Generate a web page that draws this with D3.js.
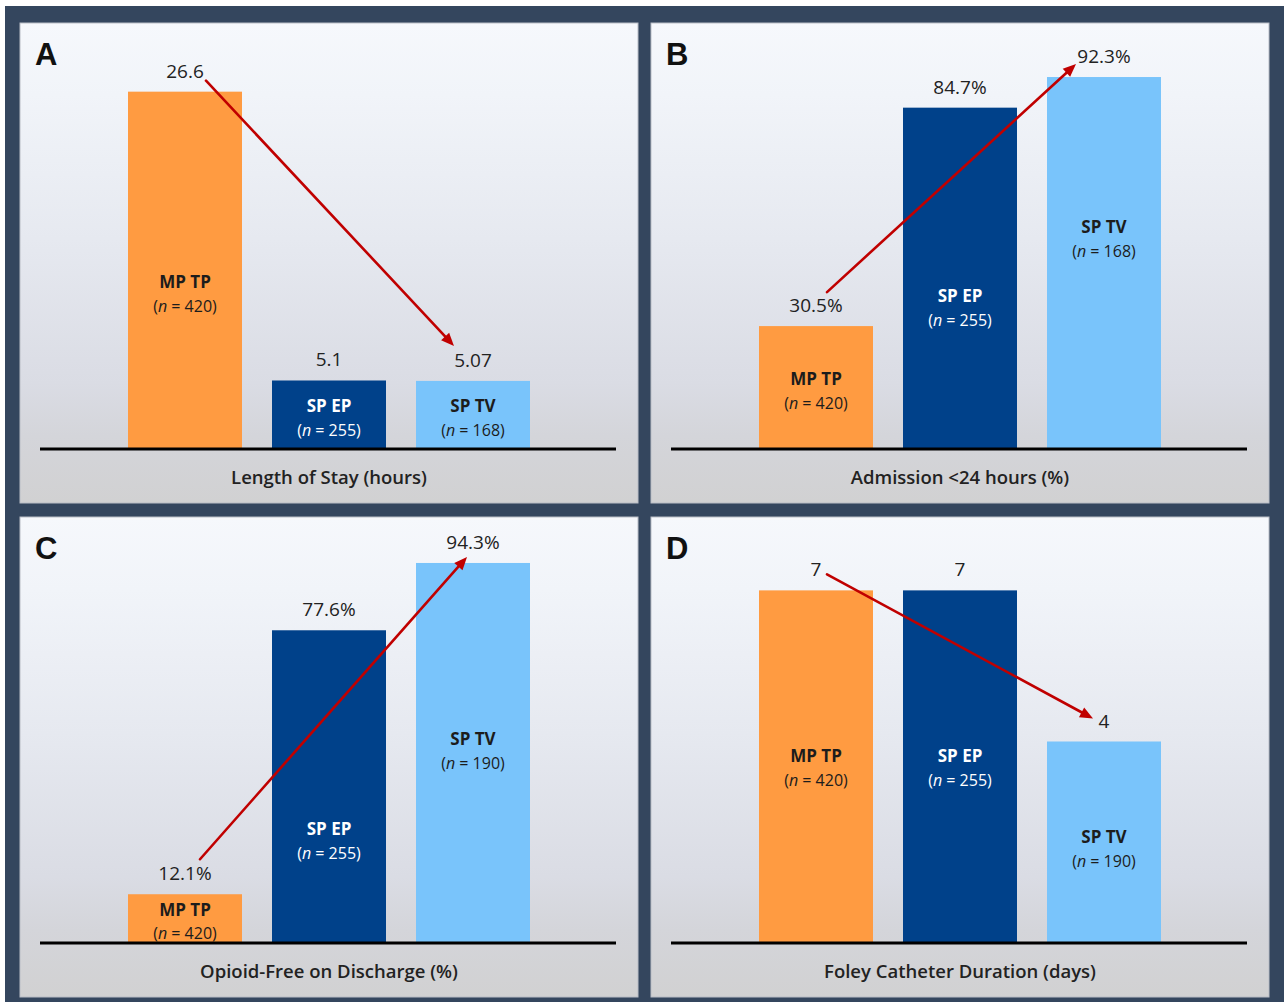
<!DOCTYPE html>
<html>
<head>
<meta charset="utf-8">
<script src="https://cdn.jsdelivr.net/npm/d3@7"></script>
<style>
  html, body { margin: 0; padding: 0; background: #ffffff; }
  svg { display: block; }
</style>
</head>
<body>
<svg id="chart" width="1284" height="1002"></svg>
<script>
// ---------------- DATA ----------------
const panelLetters = ["A", "B", "C", "D"];
const axisTitles = [
  "Length of Stay (hours)",
  "Admission <24 hours (%)",
  "Opioid-Free on Discharge (%)",
  "Foley Catheter Duration (days)"
];
const groups = ["MP TP", "SP EP", "SP TV"];

const valuesLOS = [26.6, 5.1, 5.07];
const valuesAdmission = [30.5, 84.7, 92.3];
const valuesOpioidFree = [12.1, 77.6, 94.3];
const valuesFoley = [7, 7, 4];

const valueLabelsLOS = ["26.6", "5.1", "5.07"];
const valueLabelsAdmission = ["30.5%", "84.7%", "92.3%"];
const valueLabelsOpioidFree = ["12.1%", "77.6%", "94.3%"];
const valueLabelsFoley = ["7", "7", "4"];

const nLOS = [420, 255, 168];
const nAdmission = [420, 255, 168];
const nOpioidFree = [420, 255, 190];
const nFoley = [420, 255, 190];

// value-axis maximum of each panel
const axisMax = [30, 100, 100, 8];

// where (in data units) the group label sits inside each bar
const labelAtLOS = [11.5, 2.3, 2.3];
const labelAtAdmission = [14.4, 35, 52.1];
const labelAtOpioidFree = [5.3, 25.3, 47.6];
const labelAtFoley = [3.47, 3.47, 1.86];

// ---------------- LAYOUT / STYLE ----------------
const panelsData = [
  { values: valuesLOS, labels: valueLabelsLOS, n: nLOS, labelAt: labelAtLOS },
  { values: valuesAdmission, labels: valueLabelsAdmission, n: nAdmission, labelAt: labelAtAdmission },
  { values: valuesOpioidFree, labels: valueLabelsOpioidFree, n: nOpioidFree, labelAt: labelAtOpioidFree },
  { values: valuesFoley, labels: valueLabelsFoley, n: nFoley, labelAt: labelAtFoley }
];
const panelBoxes = [
  { x: 20, y: 23 }, { x: 651, y: 23 }, { x: 20, y: 517 }, { x: 651, y: 517 }
];
// arrow endpoints as offsets from the value-label centres (first -> last bar)
const arrowOffsets = [
  { s: [21, 10], e: [-19, -14] },
  { s: [11, -13], e: [-28, 8] },
  { s: [15, -14], e: [-6, 15] },
  { s: [11, 5], e: [-11, -2] }
];
const PW = 618, PH = 480;
const BASE = 426, PLOT_H = 403;
const barColors = ["#ff9b41", "#00418a", "#79c4fb"];
const barTextColors = ["#1c1c1c", "#ffffff", "#1c1c1c"];
const FONT = "'Open Sans', 'Noto Sans', sans-serif";

const svg = d3.select("#chart");
const defs = svg.append("defs");
const grad = defs.append("linearGradient")
  .attr("id", "panelGrad").attr("x1", 0).attr("y1", 0).attr("x2", 0).attr("y2", 1);
[
  [0, "#f6f8fc"], [0.15, "#f1f4f9"], [0.45, "#e6e9f0"],
  [0.75, "#dadce4"], [0.86, "#d4d5da"], [1, "#d1d1d2"]
].forEach(([o, c]) => grad.append("stop").attr("offset", o).attr("stop-color", c));

// dark frame
svg.append("rect").attr("x", 5).attr("y", 6).attr("width", 1279).attr("height", 996)
  .attr("fill", "#34465e");

const x = d3.scaleBand().domain(groups).range([93, 525])
  .paddingInner(30 / 144).paddingOuter(15 / 144);

panelsData.forEach((pd, i) => {
  const box = panelBoxes[i];
  const g = svg.append("g").attr("transform", `translate(${box.x},${box.y})`);
  const y = d3.scaleLinear().domain([0, axisMax[i]]).range([BASE, BASE - PLOT_H]);

  g.append("rect").attr("width", PW).attr("height", PH)
    .attr("fill", "url(#panelGrad)").attr("stroke", "#b9bdc6").attr("stroke-width", 1);

  // panel letter
  g.append("text").attr("x", 15).attr("y", 42)
    .attr("font-family", "'Liberation Sans', Arial, sans-serif")
    .attr("font-weight", 700).attr("font-size", 31).attr("fill", "#111")
    .text(panelLetters[i]);

  // bars
  g.selectAll("rect.bar").data(groups).join("rect").attr("class", "bar")
    .attr("x", d => x(d)).attr("width", x.bandwidth())
    .attr("y", (d, j) => y(pd.values[j]))
    .attr("height", (d, j) => BASE - y(pd.values[j]))
    .attr("fill", (d, j) => barColors[j]);

  // baseline axis
  g.append("line").attr("x1", 20).attr("x2", 596).attr("y1", BASE).attr("y2", BASE)
    .attr("stroke", "#000").attr("stroke-width", 3);

  // axis title
  g.append("text").attr("x", (x.range()[0] + x.range()[1]) / 2).attr("y", 461)
    .attr("text-anchor", "middle").attr("font-family", FONT)
    .attr("font-weight", 600).attr("font-size", 18.5).attr("fill", "#222")
    .text(axisTitles[i]);

  // value labels
  g.selectAll("text.val").data(groups).join("text").attr("class", "val")
    .attr("x", d => x(d) + x.bandwidth() / 2)
    .attr("y", (d, j) => y(pd.values[j]) - 14)
    .attr("text-anchor", "middle").attr("font-family", FONT)
    .attr("font-size", 19).attr("fill", "#222")
    .text((d, j) => pd.labels[j]);

  // in-bar labels
  groups.forEach((grp, j) => {
    const cx = x(grp) + x.bandwidth() / 2;
    const cy = y(pd.labelAt[j]);
    g.append("text").attr("x", cx).attr("y", cy - 12).attr("dy", "0.35em")
      .attr("text-anchor", "middle").attr("font-family", FONT)
      .attr("font-weight", 700).attr("font-size", 17).attr("fill", barTextColors[j])
      .text(grp);
    const t = g.append("text").attr("x", cx).attr("y", cy + 12).attr("dy", "0.35em")
      .attr("text-anchor", "middle").attr("font-family", FONT)
      .attr("font-size", 16).attr("fill", barTextColors[j]);
    t.append("tspan").text("(");
    t.append("tspan").attr("font-style", "italic").text("n");
    t.append("tspan").text(" = " + pd.n[j] + ")");
  });

  // arrow from first to last value label
  const lx = j => x(groups[j]) + x.bandwidth() / 2;
  const ly = j => y(pd.values[j]) - 21;
  const off = arrowOffsets[i];
  const sx = lx(0) + off.s[0], sy = ly(0) + off.s[1];
  const ex = lx(2) + off.e[0], ey = ly(2) + off.e[1];
  const len = Math.hypot(ex - sx, ey - sy);
  const ux = (ex - sx) / len, uy = (ey - sy) / len;
  const headL = 13, headW = 5.5;
  const bx = ex - ux * headL, by = ey - uy * headL;
  g.append("line").attr("x1", sx).attr("y1", sy).attr("x2", bx + ux * 2).attr("y2", by + uy * 2)
    .attr("stroke", "#c00000").attr("stroke-width", 2.6).attr("stroke-linecap", "round");
  g.append("path")
    .attr("d", `M${ex},${ey}L${bx - uy * headW},${by + ux * headW}L${bx + uy * headW},${by - ux * headW}Z`)
    .attr("fill", "#c00000");
});
</script>
</body>
</html>
